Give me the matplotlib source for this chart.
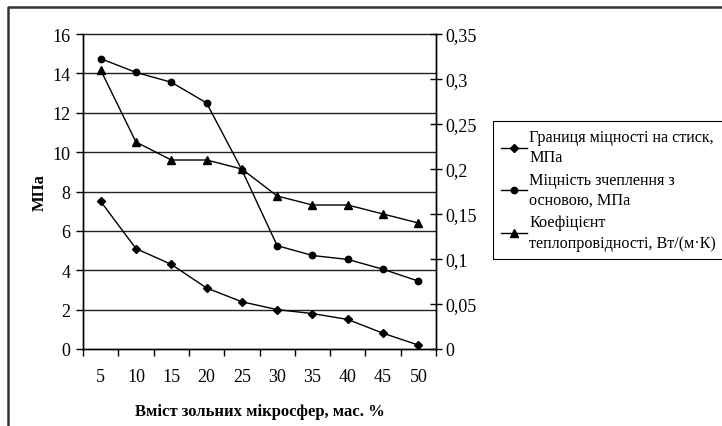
import matplotlib
matplotlib.use("Agg")
import matplotlib.pyplot as plt
from matplotlib.lines import Line2D
import numpy as np

categories = ["5", "10", "15", "20", "25", "30", "35", "40", "45", "50"]
compressive = [7.5, 5.1, 4.3, 3.1, 2.4, 2.0, 1.8, 1.5, 0.8, 0.2]
adhesion = [14.75, 14.05, 13.55, 12.5, 9.1, 5.25, 4.75, 4.55, 4.05, 3.45]
conductivity = [0.31, 0.23, 0.21, 0.21, 0.20, 0.17, 0.16, 0.16, 0.15, 0.14]
labels = ["Границя міцності на стиск,\nМПа",
          "Міцність зчеплення з\nосновою, МПа",
          "Коефіцієнт\nтеплопровідності, Вт/(м·К)"]
left_ticks = [0, 2, 4, 6, 8, 10, 12, 14, 16]
right_ticks = [0, 0.05, 0.1, 0.15, 0.2, 0.25, 0.3, 0.35]
right_labels = ["0", "0,05", "0,1", "0,15", "0,2", "0,25", "0,3", "0,35"]

plt.rcParams['font.family'] = ['Liberation Serif', 'DejaVu Serif']

fig = plt.figure(figsize=(7.22, 4.27), dpi=100)
ax = fig.add_axes([83/722, 1-350/427, (436-83)/722, (350-35)/427])
ax2 = ax.twinx()

x = np.arange(len(categories)) + 0.5
kw = dict(color='black', lw=1.0)
l1, = ax.plot(x, compressive, marker='D', ms=3.8, **kw)
l2, = ax.plot(x, adhesion, marker='o', ms=4.6, **kw)
l3, = ax2.plot(x, conductivity, marker='^', ms=5.2, **kw)

ax.set_xlim(0, len(categories))
ax.set_ylim(0, 16)
ax2.set_ylim(0, 0.35)
ax.set_yticks(left_ticks)
ax.set_yticklabels([str(t) for t in left_ticks])
ax2.set_yticks(right_ticks)
ax2.set_yticklabels(right_labels)

ax.set_xticks(x)
ax.set_xticklabels(categories)
ax.set_xticks(np.arange(len(categories) + 1), minor=True)
ax.tick_params(axis='x', which='major', length=0, pad=14, labelsize=13)
ax.tick_params(axis='x', which='minor', length=5, direction='out', width=1)
ax.tick_params(axis='y', length=5, direction='out', width=1, labelsize=13, pad=4)
ax2.tick_params(axis='y', length=8, direction='inout', width=1, labelsize=13, pad=3)

for a in (ax, ax2):
    a.spines['top'].set_visible(False)
    for s in ('left', 'right', 'bottom'):
        a.spines[s].set_linewidth(1.0)
ax.set_axisbelow(True)
for t in left_ticks[1:]:
    ax.axhline(t, color='#222222', lw=1.0, zorder=0.5, clip_on=False)

ax.set_xlabel("Вміст зольних мікросфер, мас. %", fontweight='bold', fontsize=12, labelpad=13)
ax.set_ylabel("МПа", fontweight='bold', fontsize=12, labelpad=3)

leg = fig.legend([l1, l2, l3], labels, loc='upper left',
                 bbox_to_anchor=(493/722, 1-122/427), bbox_transform=fig.transFigure,
                 fancybox=False, framealpha=1, edgecolor='black', fontsize=11.6,
                 handlelength=1.6, handletextpad=0.15, borderpad=0.5, labelspacing=0.4,
                 borderaxespad=0, handleheight=0.7)
leg.get_frame().set_linewidth(0.8)
for t in leg.get_texts():
    t.set_linespacing(1.35)

fx = 8/722
fy = 1-8/427
fig.add_artist(Line2D([fx, fx, 1.0], [0, fy, fy], transform=fig.transFigure,
                      color='#333333', lw=1.8))

fig.savefig("out.png", dpi=100)
